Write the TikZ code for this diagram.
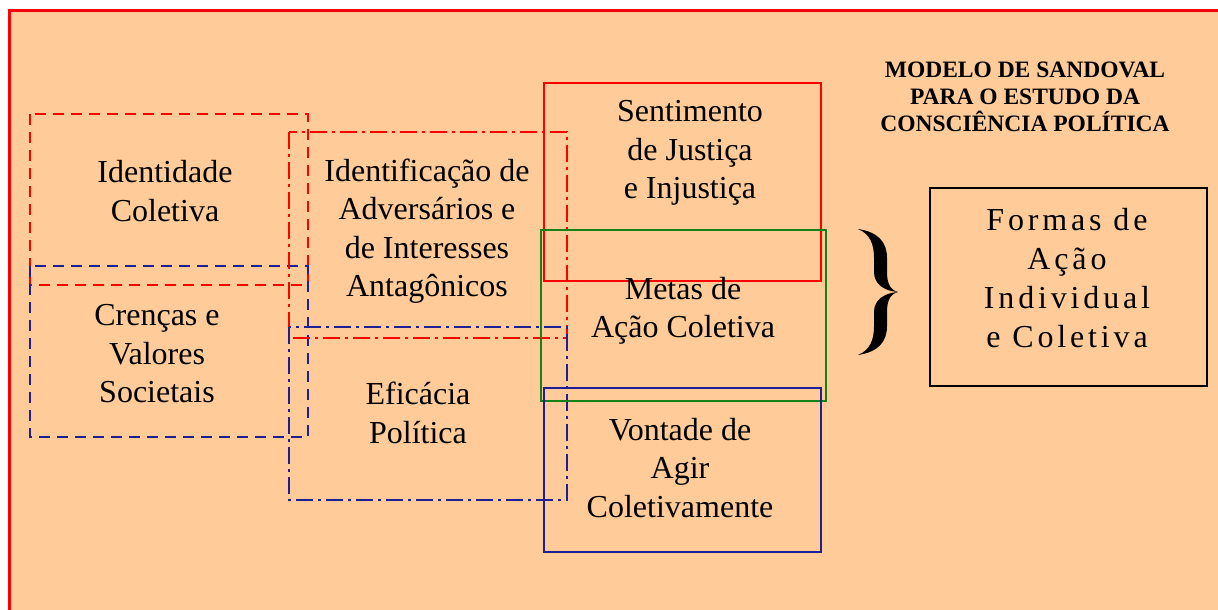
\documentclass[tikz,border=0pt]{standalone}
\usepackage{fontspec}
\setmainfont{Liberation Serif}
\newfontfamily\wideserif[LetterSpace=12]{Liberation Serif}
\definecolor{peach}{RGB}{255,204,153}
\definecolor{navy}{RGB}{30,30,150}
\definecolor{leaf}{RGB}{20,130,20}
\begin{document}
\begin{tikzpicture}[x=1pt,y=-1pt,
    txt/.style={align=center,inner sep=0pt,font=\fontsize{32}{38.5}\selectfont},
    dashbox/.style={line width=2.2pt,dash pattern=on 11pt off 7pt},
    dotbox/.style={line width=2.2pt,dash pattern=on 17pt off 5pt on 3pt off 5pt},
    solidbox/.style={line width=1.6pt}]
  \useasboundingbox[fill=white] (0,0) rectangle (1218,610);
  \fill[peach] (9,11) rectangle (1230,620);
  \draw[red,line width=3pt] (1230,11) -- (9,11) -- (9,620);
  % left column
  \draw[dashbox,red] (30,114) rectangle (308,285);
  \draw[dashbox,navy] (30,266) rectangle (308,437);
  % middle column
  \draw[dotbox,red] (289,132) rectangle (567,338);
  \draw[dotbox,navy] (289,327) rectangle (567,500);
  % right column
  \draw[solidbox,red] (544,83) rectangle (821,281);
  \draw[solidbox,leaf] (541,230) rectangle (826,401);
  \draw[solidbox,navy] (544,388) rectangle (821,552);
  \draw[solidbox,black] (930,188) rectangle (1207,386);
  % brace
  \fill[black] (858,229) .. controls (878,232) and (887,242) .. (887,258) -- (887,272)
    .. controls (887,283) and (890,290) .. (898,292)
    .. controls (884,291) and (874,284) .. (874,272) -- (874,258)
    .. controls (874,244) and (870,234) .. (858,229) -- cycle;
  \fill[black] (858,355) .. controls (878,352) and (887,342) .. (887,326) -- (887,312)
    .. controls (887,301) and (890,294) .. (898,292)
    .. controls (884,293) and (874,300) .. (874,312) -- (874,326)
    .. controls (874,340) and (870,350) .. (858,355) -- cycle;
  % texts
  \node[txt] (ident) at (165,191) {Identidade\\Coletiva};
  \node[txt] (crencas) at (157,354) {Crenças e\\Valores\\Societais};
  \node[txt] (advers) at (427,231) {Identificação de\\Adversários e\\de Interesses\\Antagônicos};
  \node[txt] (eficacia) at (418,413) {Eficácia\\Política};
  \node[txt] (sentim) at (690,153) {Sentimento\\de Justiça\\e Injustiça};
  \node[txt] (metas) at (683,311) {Metas de\\Ação Coletiva};
  \node[txt] (vontade) at (680,468) {Vontade de\\Agir\\Coletivamente};
  \node[txt,font=\wideserif\fontsize{32}{39}\selectfont] (formas) at (1067,278) {Formas de\\Ação\\Individual\\e Coletiva};
  \node[align=center,inner sep=0pt,font=\bfseries\fontsize{23.5}{27}\selectfont] (titulo) at (1025,97)
    {MODELO DE SANDOVAL\\PARA O ESTUDO DA\\CONSCIÊNCIA POLÍTICA};
\end{tikzpicture}
\end{document}
